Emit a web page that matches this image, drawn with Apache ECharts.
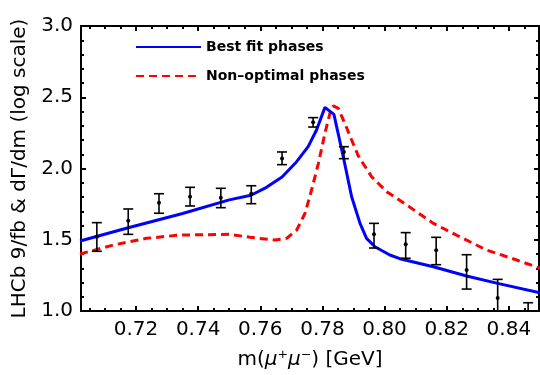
<!DOCTYPE html>
<html>
<head>
<meta charset="utf-8">
<script src="https://cdn.jsdelivr.net/npm/echarts@6/dist/echarts.min.js"></script>
<style>
  html, body { margin: 0; padding: 0; background: #fff; }
  #chart { width: 540px; height: 375px; }
</style>
</head>
<body>
<div id="chart"></div>
<script>
// measured bins (LHCb 9/fb), log scale values
const binMass = [0.7074, 0.7175, 0.7274, 0.7374, 0.7473, 0.7571, 0.7670, 0.7770, 0.7869, 0.7966, 0.8068, 0.8166, 0.8264, 0.8364, 0.8462];
const binValue = [1.521, 1.634, 1.760, 1.802, 1.795, 1.823, 2.071, 2.324, 2.116, 1.538, 1.468, 1.426, 1.288, 1.091, 0.950];
const binLow = [1.419, 1.538, 1.686, 1.737, 1.725, 1.753, 2.027, 2.291, 2.069, 1.442, 1.370, 1.325, 1.154, 0.960, 0.850];
const binHigh = [1.620, 1.716, 1.823, 1.868, 1.861, 1.879, 2.116, 2.357, 2.153, 1.615, 1.550, 1.517, 1.395, 1.222, 1.058];

// best fit phases curve
const fitMass = [0.7020, 0.7175, 0.7350, 0.7500, 0.7570, 0.7620, 0.7670, 0.7717, 0.7754, 0.7781, 0.7808, 0.7837, 0.7867, 0.7894, 0.7921, 0.7942, 0.7969, 0.8017, 0.8049, 0.8157, 0.8264, 0.8364, 0.8500];
const fitValue = [1.491, 1.584, 1.684, 1.780, 1.812, 1.868, 1.940, 2.048, 2.153, 2.270, 2.429, 2.380, 2.083, 1.802, 1.615, 1.510, 1.451, 1.393, 1.367, 1.311, 1.246, 1.194, 1.128];

// non-optimal phases curve
const altMass = [0.7020, 0.7127, 0.7234, 0.7342, 0.7502, 0.7567, 0.7647, 0.7685, 0.7717, 0.7744, 0.7765, 0.7787, 0.7808, 0.7824, 0.7835, 0.7851, 0.7872, 0.7894, 0.7915, 0.7958, 0.8007, 0.8071, 0.8157, 0.8242, 0.8328, 0.8425, 0.8500];
const altValue = [1.400, 1.463, 1.510, 1.533, 1.538, 1.517, 1.498, 1.510, 1.568, 1.686, 1.849, 2.036, 2.247, 2.387, 2.439, 2.422, 2.317, 2.200, 2.090, 1.943, 1.837, 1.744, 1.615, 1.521, 1.428, 1.358, 1.300];

const xLabelTicks = [0.72, 0.74, 0.76, 0.78, 0.80, 0.82, 0.84];
const xMinorTicks = [0.705, 0.71, 0.715, 0.72, 0.725, 0.73, 0.735, 0.74, 0.745, 0.75, 0.755, 0.76, 0.765, 0.77, 0.775, 0.78, 0.785, 0.79, 0.795, 0.80, 0.805, 0.81, 0.815, 0.82, 0.825, 0.83, 0.835, 0.84, 0.845];

const X_MIN = 0.7023, X_MAX = 0.8497;
const FONT = 'DejaVu Sans';

const zip = (a, b) => a.map((v, i) => [v, b[i]]);
const errData = binMass.map((m, i) => [m, binValue[i], binLow[i], binHigh[i]]);

const chart = echarts.init(document.getElementById('chart'), null, { renderer: 'canvas' });

function xAxisDef(position, major, withLabels) {
  return {
    type: 'value',
    position: position,
    min: X_MIN,
    max: X_MAX,
    axisLine: { show: true, onZero: false, lineStyle: { color: '#000', width: 2 } },
    axisTick: {
      show: true, inside: true, length: major ? 5 : 3,
      customValues: major ? xLabelTicks : xMinorTicks,
      lineStyle: { color: '#000', width: 2 }
    },
    axisLabel: {
      show: withLabels,
      customValues: xLabelTicks,
      formatter: v => v.toFixed(2),
      color: '#000', fontFamily: FONT, fontSize: 20, margin: 9
    },
    splitLine: { show: false },
    name: withLabels ? '{a|m(}{b|μ⁺μ⁻}{a|) [GeV]}' : '',
    nameLocation: 'middle',
    nameGap: 39,
    nameTextStyle: {
      rich: {
        a: { fontFamily: FONT, fontSize: 20, color: '#000' },
        b: { fontFamily: FONT, fontSize: 20, fontStyle: 'italic', color: '#000' }
      }
    }
  };
}

function yAxisDef(position, withLabels) {
  return {
    type: 'value',
    position: position,
    min: 1.0,
    max: 3.0,
    interval: 0.5,
    axisLine: { show: true, onZero: false, lineStyle: { color: '#000', width: 2 } },
    axisTick: { show: true, inside: true, length: 5, lineStyle: { color: '#000', width: 2 } },
    minorTick: { show: true, splitNumber: 5, length: 3, lineStyle: { color: '#000', width: 2 } },
    axisLabel: {
      show: withLabels,
      formatter: v => v.toFixed(1),
      color: '#000', fontFamily: FONT, fontSize: 20, margin: 8
    },
    splitLine: { show: false },
    name: withLabels ? 'LHCb 9/fb & dΓ/dm (log scale)' : '',
    nameLocation: 'middle',
    nameGap: 45,
    nameTextStyle: { fontFamily: FONT, fontSize: 20, color: '#000' }
  };
}

chart.setOption({
  animation: false,
  backgroundColor: '#fff',
  grid: { left: 81, right: 1, top: 26, bottom: 64, containLabel: false },
  legend: {
    orient: 'vertical',
    left: 130,
    top: 35,
    itemWidth: 65,
    itemHeight: 14,
    itemGap: 15,
    itemStyle: { opacity: 0 },
    textStyle: { fontFamily: FONT, fontSize: 14, fontWeight: 'bold', color: '#000' },
    data: ['Best fit phases', 'Non–optimal phases']
  },
  xAxis: [
    xAxisDef('bottom', true, true),
    xAxisDef('bottom', false, false),
    xAxisDef('top', true, false),
    xAxisDef('top', false, false)
  ],
  yAxis: [
    yAxisDef('left', true),
    yAxisDef('right', false)
  ],
  series: [
    {
      name: 'Best fit phases',
      type: 'line',
      data: zip(fitMass, fitValue),
      symbol: 'none',
      clip: true,
      lineStyle: { color: '#0000ff', width: 3 },
      itemStyle: { color: '#0000ff' },
      z: 3
    },
    {
      name: 'Non–optimal phases',
      type: 'line',
      data: zip(altMass, altValue),
      symbol: 'none',
      clip: true,
      lineStyle: { color: '#ff0000', width: 3, type: [8, 5] },
      itemStyle: { color: '#ff0000' },
      z: 2
    },
    {
      name: 'LHCb',
      type: 'custom',
      clip: true,
      z: 4,
      data: errData,
      encode: { x: 0, y: 1 },
      renderItem: function (params, api) {
        const m = api.value(0);
        const c = api.coord([m, api.value(1)]);
        const lo = api.coord([m, api.value(2)]);
        const hi = api.coord([m, api.value(3)]);
        const cap = 5;
        const st = { stroke: '#000', lineWidth: 1.6 };
        return {
          type: 'group',
          children: [
            { type: 'line', shape: { x1: lo[0], y1: lo[1], x2: hi[0], y2: hi[1] }, style: st },
            { type: 'line', shape: { x1: lo[0] - cap, y1: lo[1], x2: lo[0] + cap, y2: lo[1] }, style: st },
            { type: 'line', shape: { x1: hi[0] - cap, y1: hi[1], x2: hi[0] + cap, y2: hi[1] }, style: st },
            { type: 'circle', shape: { cx: c[0], cy: c[1], r: 2 }, style: { fill: '#000' } }
          ]
        };
      }
    }
  ]
});
</script>
</body>
</html>
